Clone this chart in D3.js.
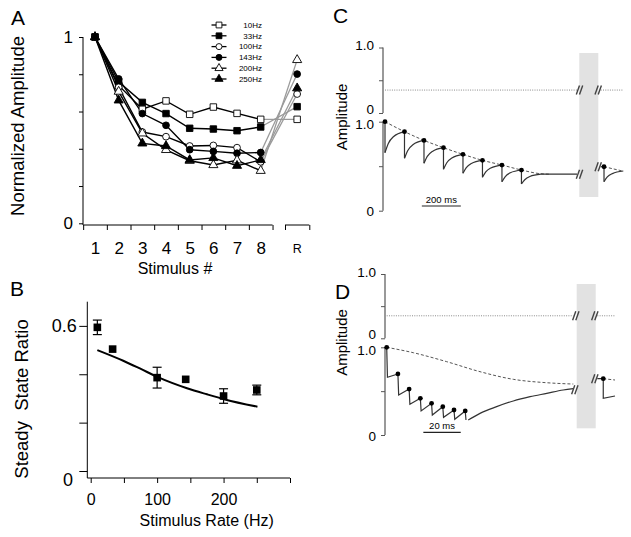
<!DOCTYPE html>
<html><head><meta charset="utf-8">
<script src="https://cdn.jsdelivr.net/npm/d3@7"></script>
<style>
body{margin:0;background:#fff}
svg{display:block}
text{font-family:"Liberation Sans",Arial,Helvetica,sans-serif;fill:#000}
</style>
</head><body>
<svg id="fig" width="631" height="537"></svg>
<script>
// ================= DATA =================
// Panel A: normalized amplitude per stimulus number, per stimulation rate
const stimulusNumbers = [1,2,3,4,5,6,7,8];
const rateLabels = ["10Hz","33Hz","100Hz","143Hz","200Hz","250Hz"];
const amp10Hz  = [1,0.74,0.612,0.657,0.585,0.624,0.59,0.558];
const amp33Hz  = [1,0.76,0.649,0.589,0.51,0.506,0.497,0.517];
const amp100Hz = [1,0.73,0.49,0.465,0.415,0.418,0.406,0.33];
const amp143Hz = [1,0.775,0.589,0.526,0.395,0.386,0.376,0.38];
const amp200Hz = [1,0.707,0.483,0.394,0.336,0.313,0.338,0.282];
const amp250Hz = [1,0.66,0.429,0.415,0.34,0.351,0.309,0.34];
const recoveryAmp = [0.558,0.626,0.694,0.801,0.877,0.725]; // "R" column, same order as rateLabels
const yTicksA = [0,0.2,0.4,0.6,0.8,1];
const xBoundsA = [0.5,1.5,2.5,3.5,4.5,5.5,6.5,7.5,8.5];

// Panel B: steady state ratio vs stimulus rate
const rateHz = [10,33,100,143,200,250];
const ssRatio = [0.594,0.504,0.386,0.379,0.31,0.335];
const ssError = [0.03,0,0.043,0,0.03,0.02];
const fitRate = [10,49,74,102,145,175,202,251];
const fitRatio = [0.5,0.456,0.424,0.387,0.342,0.317,0.296,0.266];
const yTicksB = [0,0.2,0.4,0.6];
const xTicksB = [0,50,100,150,200,250,300];

// Panels C/D amplitude axes
const ampTicks = [0,0.5,1];
const ampTickLabels = ["0","","1.0"];

// Panel C: 10 Hz train (times in ms)
const cStimTimes = [0,100,200,300,400,500,600,700];
const cPeaks   = [1.0,0.888,0.79,0.708,0.633,0.566,0.513,0.457];
const cTroughs = [0.652,0.589,0.533,0.465,0.42,0.375,0.326,0.30];
const cKneeA   = [0.756,0.677,0.61,0.539,0.484,0.436,0.384,0.348]; // ~17 ms after stimulus
const cKneeB   = [0.831,0.742,0.666,0.593,0.531,0.48,0.426,0.384]; // ~43 ms after stimulus
const cSteadyTimes = [800,985];
const cSteadyLevel = 0.41;
const cDashTimes = [0,100,200,300,400,500,600,700,800,850];
const cDashVals  = [1.0,0.888,0.79,0.708,0.633,0.566,0.513,0.457,0.415,0.41];
const cTestTimes = [-17,0,17,43,99];          // after the break
const cTestVals  = [0.494,0.494,0.326,0.379,0.417];
const cTestEnd = 0.446;
const cTestDash = [0.494,0.444];
const restingLevel = 0.35;

// Panel D: high-rate train (times in ms)
const dStimTimes = [0,6,12,18,24,30,36,42];
const dPeaks   = [1.0,0.696,0.524,0.418,0.361,0.323,0.285,0.274];
const dTroughs = [0.658,0.456,0.35,0.274,0.228,0.202,0.179,0.171];
const dRecTimes = [43.6,49.9,58.8,67.7,76.7,85.6,94.4,99.8];
const dRecVals  = [0.171,0.247,0.323,0.388,0.437,0.475,0.513,0.528];
const dDashTimes = [0,14.3,32.1,49.9,67.7,85.6,99.8];
const dDashVals  = [1.0,0.938,0.836,0.722,0.635,0.596,0.581];
const dTestTimes = [-3.2,0,0,6.3];
const dTestVals  = [0.642,0.642,0.418,0.445];
const dTestDash  = [0.642,0.627];

// ================= DRAWING =================
const svg = d3.select("#fig");
const FONT = '"Liberation Sans",Arial,Helvetica,sans-serif';

function styleAxis(g, fs, color){
  g.select(".domain").remove();
  g.selectAll("line").attr("stroke", color||"#000").attr("stroke-width",1);
  g.selectAll("text").attr("font-size",fs).attr("font-family",FONT).attr("fill","#000");
}

// ---------- Panel A ----------
const xA = d3.scaleLinear().domain([1,8]).range([95,260.7]);
const xAR = d3.scaleLinear().domain([0,1]).range([285,309.3]);
const yA = d3.scaleLinear().domain([0,1]).range([223.3,37]);
const gA = svg.append("g");

gA.append("text").attr("x",11).attr("y",25).attr("font-size",21).text("A");

gA.append("line").attr("x1",83).attr("x2",83).attr("y1",yA(1)).attr("y2",225).attr("stroke","#000");
const yAxA = gA.append("g").attr("transform","translate(83,0)")
  .call(d3.axisLeft(yA).tickValues(yTicksA).tickSize(4).tickPadding(6)
    .tickFormat(d => (d===0||d===1) ? String(d) : ""));
styleAxis(yAxA,17);

gA.append("line").attr("x1",xA(0.5)).attr("x2",xA(8.5)).attr("y1",225).attr("y2",225).attr("stroke","#000");
const xAxA = gA.append("g").attr("transform","translate(0,225)")
  .call(d3.axisBottom(xA).tickValues(xBoundsA).tickSize(5).tickFormat(""));
styleAxis(xAxA,17);
const xLabA = gA.append("g").attr("transform","translate(0,225)")
  .call(d3.axisBottom(xA).tickValues(stimulusNumbers).tickSize(0).tickPadding(17).tickFormat(d3.format("d")));
styleAxis(xLabA,17);
gA.append("line").attr("x1",xAR(0)).attr("x2",xAR(1)).attr("y1",225).attr("y2",225).attr("stroke","#000");
const xAxR = gA.append("g").attr("transform","translate(0,225)")
  .call(d3.axisBottom(xAR).tickValues([0,1]).tickSize(5).tickFormat(""));
styleAxis(xAxR,12);
gA.append("text").attr("x",xAR(0.5)).attr("y",253).attr("text-anchor","middle").attr("font-size",12.5).text("R");

gA.append("text").attr("x",175).attr("y",274).attr("text-anchor","middle").attr("font-size",16).text("Stimulus #");
gA.append("text").attr("transform","translate(23.5,126) rotate(-90)").attr("text-anchor","middle")
  .attr("font-size",18.5).text("Normalized Amplitude");

const seriesA = [amp10Hz,amp33Hz,amp100Hz,amp143Hz,amp200Hz,amp250Hz];
const shapesA = [d3.symbolSquare,d3.symbolSquare,d3.symbolCircle,d3.symbolCircle,d3.symbolTriangle,d3.symbolTriangle];
const sizesA  = [42,42,36,36,36,36];
const filledA = [false,true,false,true,false,true];
const lineA = d3.line().x((d,i)=>xA(stimulusNumbers[i])).y(d=>yA(d));

seriesA.forEach((s,k)=>{
  gA.append("line").attr("x1",xA(8)).attr("y1",yA(s[7])).attr("x2",xAR(0.5)).attr("y2",yA(recoveryAmp[k]))
    .attr("stroke","#9a9a9a").attr("stroke-width",1.3);
});
seriesA.forEach(s=>{
  gA.append("path").attr("d",lineA(s)).attr("fill","none").attr("stroke","#000").attr("stroke-width",1.4);
});
function drawSym(g,x,y,k,scale){
  g.append("path").attr("d",d3.symbol().type(shapesA[k]).size(sizesA[k]*(scale||1))())
    .attr("transform",`translate(${x},${y})`)
    .attr("fill",filledA[k]?"#000":"#fff").attr("stroke","#000").attr("stroke-width",0.9);
}
seriesA.forEach((s,k)=>{
  s.forEach((v,i)=>drawSym(gA,xA(stimulusNumbers[i]),yA(v),k));
  drawSym(gA,xAR(0.5),yA(recoveryAmp[k]),k);
});
rateLabels.forEach((lab,k)=>{
  const y = 25 + k*10.8;
  gA.append("line").attr("x1",211.5).attr("x2",226.5).attr("y1",y).attr("y2",y).attr("stroke","#000").attr("stroke-width",1.3);
  drawSym(gA,219,y,k,0.8);
  gA.append("text").attr("x",262).attr("y",y).attr("dy","0.35em").attr("text-anchor","end").attr("font-size",8).text(lab);
});

// ---------- Panel B ----------
const xB = d3.scaleLinear().domain([0,300]).range([90.7,290]);
const yB = d3.scaleLinear().domain([0,0.7]).range([471,301.7]);
const gB = svg.append("g");
gB.append("text").attr("x",10).attr("y",296).attr("font-size",21).text("B");

gB.append("line").attr("x1",87.3).attr("x2",87.3).attr("y1",yB(0.7)).attr("y2",478).attr("stroke","#000");
const yAxB = gB.append("g").attr("transform","translate(87.3,0)")
  .call(d3.axisLeft(yB).tickValues(yTicksB).tickSize(8).tickPadding(2.5)
    .tickFormat(d => d===0.6 ? "0.6" : ""));
styleAxis(yAxB,18);
gB.append("text").attr("x",73).attr("y",yB(0)+9).attr("dy","0.35em").attr("text-anchor","end").attr("font-size",18).text("0");

gB.append("line").attr("x1",87.3).attr("x2",xB(300)).attr("y1",478).attr("y2",478).attr("stroke","#000");
const xAxB = gB.append("g").attr("transform","translate(0,478)")
  .call(d3.axisBottom(xB).tickValues(xTicksB).tickSize(5).tickPadding(11)
    .tickFormat(d => (d%100===0 && d<300) ? String(d) : ""));
styleAxis(xAxB,16);

gB.append("text").attr("x",206.7).attr("y",525.5).attr("text-anchor","middle").attr("font-size",16).text("Stimulus Rate (Hz)");
gB.append("text").attr("transform","translate(28,399) rotate(-90)").attr("text-anchor","middle")
  .attr("font-size",18.5).attr("xml:space","preserve").style("white-space","pre").text("Steady  State Ratio");

gB.append("path").attr("d", d3.line().curve(d3.curveMonotoneX).x((d,i)=>xB(fitRate[i])).y(d=>yB(d))(fitRatio))
  .attr("fill","none").attr("stroke","#000").attr("stroke-width",2);
rateHz.forEach((r,i)=>{
  const x = xB(r), y = yB(ssRatio[i]);
  if (ssError[i] > 0) {
    const y1 = yB(ssRatio[i]+ssError[i]), y2 = yB(ssRatio[i]-ssError[i]);
    gB.append("line").attr("x1",x).attr("x2",x).attr("y1",y1).attr("y2",y2).attr("stroke","#000").attr("stroke-width",1.2);
    [y1,y2].forEach(yy=>gB.append("line").attr("x1",x-4.5).attr("x2",x+4.5).attr("y1",yy).attr("y2",yy).attr("stroke","#000").attr("stroke-width",1.2));
  }
  gB.append("rect").attr("x",x-3.8).attr("y",y-3.8).attr("width",7.6).attr("height",7.6).attr("fill","#000");
});

// ---------- Panels C & D ----------
const AX_COL = "#555", TR_COL = "#333";
const labelLayer = [];   // tick labels drawn last, on top of everything
function breakMark(g,cx,cy){
  [-1.6,1.6].forEach(o=>{
    g.append("line").attr("x1",cx+o-1.6).attr("y1",cy+4.5).attr("x2",cx+o+1.6).attr("y2",cy-4.5)
      .attr("stroke","#444").attr("stroke-width",1.4);
  });
}
function ampAxis(g, x, yScale, nudges){
  g.append("line").attr("x1",x).attr("x2",x).attr("y1",yScale(1)).attr("y2",yScale(0)).attr("stroke",AX_COL).attr("stroke-width",1.2);
  const ax = g.append("g").attr("transform",`translate(${x},0)`)
    .call(d3.axisLeft(yScale).tickValues(ampTicks).tickSize(4).tickFormat(""));
  styleAxis(ax,13.5,AX_COL);
  ampTicks.forEach((v,i)=>{
    if (ampTickLabels[i]) labelLayer.push({x:x-9, y:yScale(v)+nudges[i], t:ampTickLabels[i]});
  });
}

function drawPanel(opt){
  const g = svg.append("g");
  g.append("text").attr("x",opt.letterX).attr("y",opt.letterY).attr("font-size",21).text(opt.letter);
  g.append("rect").attr("x",opt.band[0]).attr("y",opt.band[1]).attr("width",opt.band[2]-opt.band[0])
    .attr("height",opt.band[3]-opt.band[1]).attr("fill","#e2e2e2");
  ampAxis(g, opt.axisX, opt.yTop, [-4,0,-2]);
  ampAxis(g, opt.axisX, opt.yBot, [1,0,3]);
  g.append("text").attr("transform",`translate(${opt.ampLabX},${opt.ampLabY}) rotate(-90)`)
    .attr("text-anchor","middle").attr("font-size",15).text("Amplitude");
  const xPre = opt.xPre, xPost = opt.xPost;
  const yr = opt.yTop(restingLevel);
  g.append("line").attr("x1",xPre.range()[0]).attr("x2",xPre.range()[1]).attr("y1",yr).attr("y2",yr)
    .attr("stroke","#8a8a8a").attr("stroke-dasharray","1,1.3");
  g.append("line").attr("x1",xPost.range()[0]).attr("x2",xPost.range()[1]).attr("y1",yr).attr("y2",yr)
    .attr("stroke","#8a8a8a").attr("stroke-dasharray","1,1.3");
  breakMark(g, xPre.range()[1]+2.5, yr);
  breakMark(g, xPost.range()[0]-2.5, yr);
  const sb0 = xPre(opt.scaleBar[0]), sb1 = xPre(opt.scaleBar[1]);
  g.append("line").attr("x1",sb0).attr("x2",sb1).attr("y1",opt.scaleBarY).attr("y2",opt.scaleBarY).attr("stroke","#222").attr("stroke-width",1.2);
  g.append("text").attr("x",(sb0+sb1)/2).attr("y",opt.scaleBarY-3.5).attr("text-anchor","middle").attr("font-size",9.5).text(opt.scaleLabel);
  return g;
}

// ----- Panel C -----
const xCpre = d3.scaleLinear().domain([0,985]).range([385,577]);
const xCpost = d3.scaleLinear().domain([-17,99]).range([600.7,623.3]);
const yCtop = d3.scaleLinear().domain([0,1]).range([113,47.5]);
const yCbot = d3.scaleLinear().domain([0,1]).range([210.7,121.7]);
const gC = drawPanel({letter:"C",letterX:333,letterY:23,band:[579.3,53,598.3,197],axisX:383,
  yTop:yCtop,yBot:yCbot,ampLabX:346.5,ampLabY:117,xPre:xCpre,xPost:xCpost,
  scaleBar:[189,389],scaleBarY:206,scaleLabel:"200 ms"});
const smooth = d3.line().curve(d3.curveMonotoneX);
gC.append("path").attr("d", smooth(cDashTimes.map((t,i)=>[xCpre(t),yCbot(cDashVals[i])])))
  .attr("fill","none").attr("stroke","#555").attr("stroke-dasharray","3,2").attr("stroke-width",1);
cStimTimes.forEach((t,i)=>{
  gC.append("line").attr("x1",xCpre(t)).attr("x2",xCpre(t)).attr("y1",yCbot(cPeaks[i])).attr("y2",yCbot(cTroughs[i]))
    .attr("stroke",TR_COL).attr("stroke-width",1.2);
  const nextT = i < cStimTimes.length-1 ? cStimTimes[i+1] : cSteadyTimes[0];
  const nextV = i < cStimTimes.length-1 ? cPeaks[i+1] : cSteadyLevel;
  const pts = [[t,cTroughs[i]],[t+17,cKneeA[i]],[t+43,cKneeB[i]],[nextT,nextV]];
  gC.append("path").attr("d", smooth(pts.map(p=>[xCpre(p[0]),yCbot(p[1])])))
    .attr("fill","none").attr("stroke",TR_COL).attr("stroke-width",1.2);
});
gC.append("line").attr("x1",xCpre(cSteadyTimes[0])).attr("x2",xCpre(cSteadyTimes[1]))
  .attr("y1",yCbot(cSteadyLevel)).attr("y2",yCbot(cSteadyLevel)).attr("stroke",TR_COL).attr("stroke-width",1.2);
gC.append("line").attr("x1",xCpost(cTestTimes[0])).attr("x2",xCpost(0)).attr("y1",yCbot(cTestVals[0])).attr("y2",yCbot(cTestVals[1])).attr("stroke",TR_COL).attr("stroke-width",1.2);
gC.append("line").attr("x1",xCpost(0)).attr("x2",xCpost(0)).attr("y1",yCbot(cTestVals[1])).attr("y2",yCbot(cTestVals[2])).attr("stroke",TR_COL).attr("stroke-width",1.2);
gC.append("path").attr("d", smooth([[0,cTestVals[2]],[17,cTestVals[3]],[43,cTestVals[4]],[99,cTestEnd]].map(p=>[xCpost(p[0]),yCbot(p[1])])))
  .attr("fill","none").attr("stroke",TR_COL).attr("stroke-width",1.2);
gC.append("line").attr("x1",xCpost(0)).attr("x2",xCpost(99)).attr("y1",yCbot(cTestDash[0])).attr("y2",yCbot(cTestDash[1]))
  .attr("stroke","#555").attr("stroke-dasharray","3,2");
breakMark(gC, xCpre(985)+2.5, yCbot(cSteadyLevel));
breakMark(gC, xCpost(-17)-2.5, yCbot(cTestVals[0]));
cStimTimes.forEach((t,i)=>gC.append("circle").attr("cx",xCpre(t)).attr("cy",yCbot(cPeaks[i])).attr("r",2.4).attr("fill","#000"));
gC.append("circle").attr("cx",xCpost(0)).attr("cy",yCbot(cTestVals[1])).attr("r",2.4).attr("fill","#000");

// ----- Panel D -----
const xDpre = d3.scaleLinear().domain([0,99.8]).range([386.7,573.3]);
const xDpost = d3.scaleLinear().domain([-3.2,6.3]).range([597.3,615]);
const yDtop = d3.scaleLinear().domain([0,1]).range([338.3,274]);
const yDbot = d3.scaleLinear().domain([0,1]).range([435,347.3]);
const gD = drawPanel({letter:"D",letterX:335,letterY:299,band:[576.7,284,595.7,428.3],axisX:385,
  yTop:yDtop,yBot:yDbot,ampLabX:346.5,ampLabY:342.5,xPre:xDpre,xPost:xDpost,
  scaleBar:[19.6,39.6],scaleBarY:432.3,scaleLabel:"20 ms"});
gD.append("path").attr("d", smooth(dDashTimes.map((t,i)=>[xDpre(t),yDbot(dDashVals[i])])))
  .attr("fill","none").attr("stroke","#555").attr("stroke-dasharray","3,2").attr("stroke-width",1);
const saw = [];
dStimTimes.forEach((t,i)=>{ saw.push([t,dPeaks[i]]); saw.push([t+0.4,dTroughs[i]]); });
gD.append("path").attr("d", d3.line()(saw.map(p=>[xDpre(p[0]),yDbot(p[1])])))
  .attr("fill","none").attr("stroke",TR_COL).attr("stroke-width",1.2);
gD.append("path").attr("d", smooth(dRecTimes.map((t,i)=>[xDpre(t),yDbot(dRecVals[i])])))
  .attr("fill","none").attr("stroke",TR_COL).attr("stroke-width",1.2);
gD.append("path").attr("d", d3.line()(dTestTimes.map((t,i)=>[xDpost(t),yDbot(dTestVals[i])])))
  .attr("fill","none").attr("stroke",TR_COL).attr("stroke-width",1.2);
gD.append("line").attr("x1",xDpost(0)).attr("x2",xDpost(6.3)).attr("y1",yDbot(dTestDash[0])).attr("y2",yDbot(dTestDash[1]))
  .attr("stroke","#555").attr("stroke-dasharray","3,2");
breakMark(gD, xDpre(99.8)+1.5, yDbot(dRecVals[dRecVals.length-1])+1);
breakMark(gD, xDpost(-3.2)-2.5, yDbot(dTestVals[0]));
dStimTimes.forEach((t,i)=>gD.append("circle").attr("cx",xDpre(t)).attr("cy",yDbot(dPeaks[i])).attr("r",2.4).attr("fill","#000"));
gD.append("circle").attr("cx",xDpost(0)).attr("cy",yDbot(dTestVals[1])).attr("r",2.4).attr("fill","#000");

// tick labels of the C/D amplitude axes, on top
const gLab = svg.append("g");
labelLayer.forEach(l=>{
  gLab.append("text").attr("x",l.x).attr("y",l.y).attr("dy","0.35em").attr("text-anchor","end")
    .attr("font-size",13.5).attr("fill","#000").style("fill","#000").text(l.t);
});
</script>
</body></html>
